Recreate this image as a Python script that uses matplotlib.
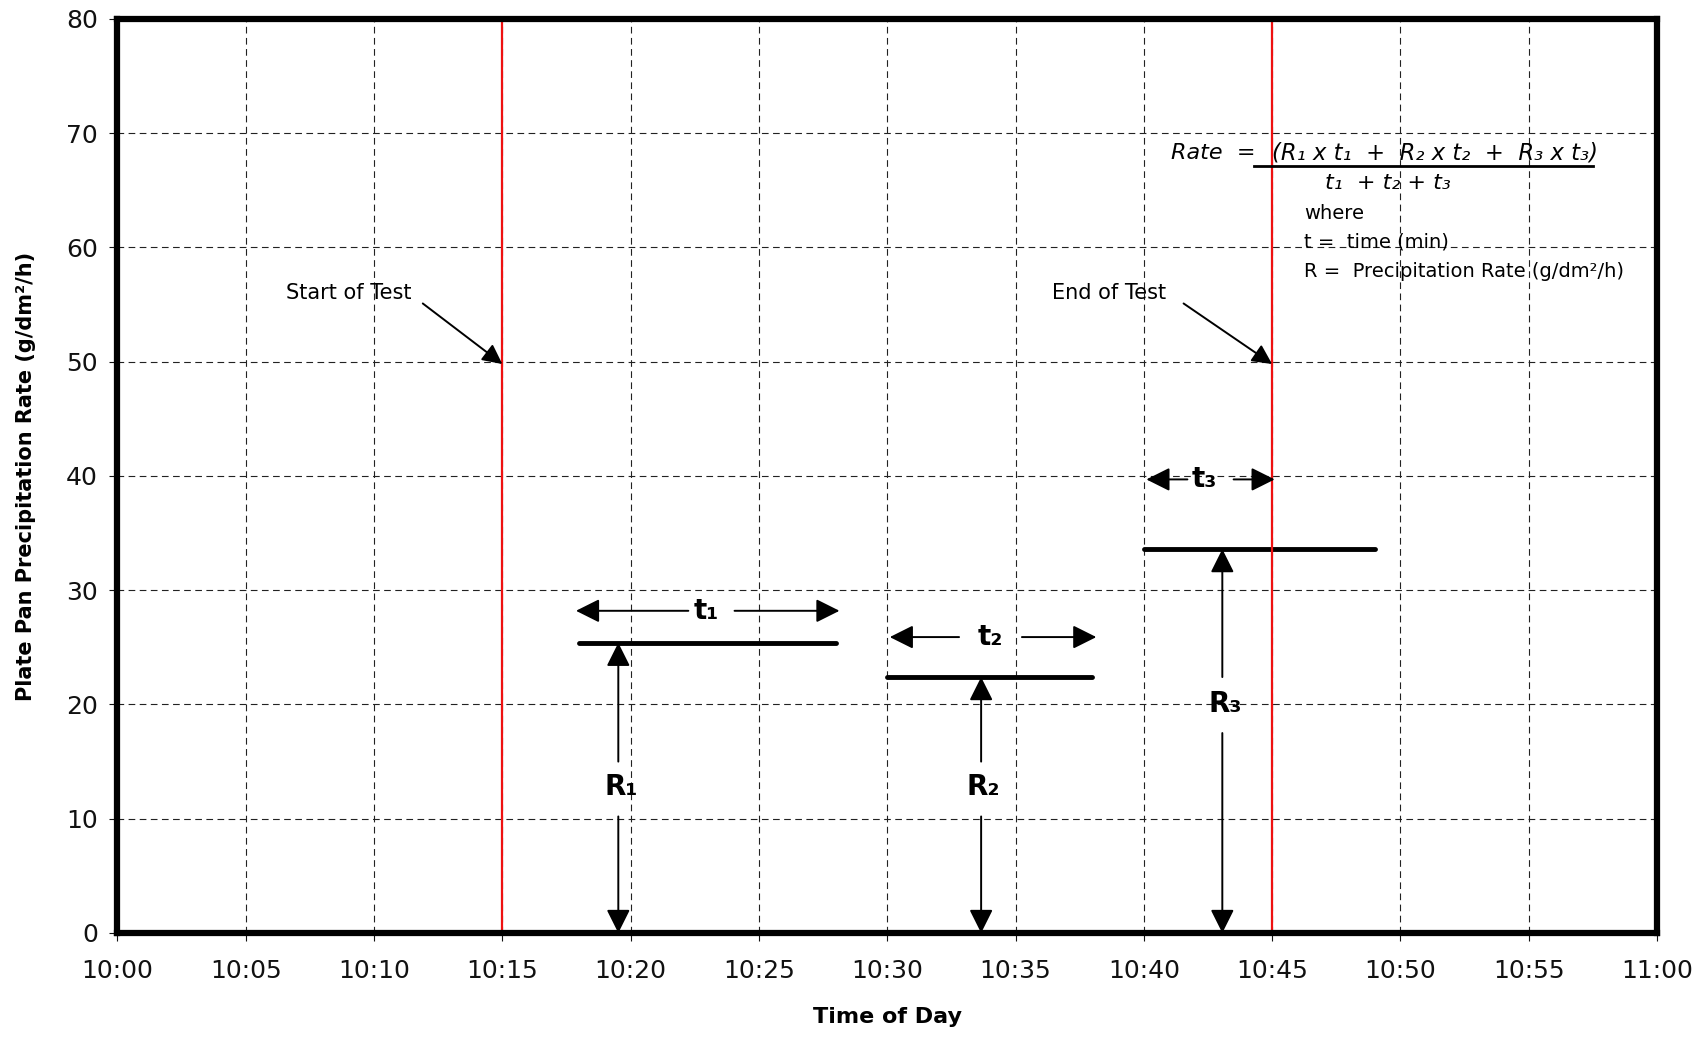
import matplotlib
matplotlib.use('Agg')
import matplotlib.pyplot as plt

plt.rcParams['font.family'] = ['DejaVu Sans']

# minutes after 10:00
tick_minutes = list(range(0, 61, 5))
tick_labels = ['10:%02d' % m if m < 60 else '11:00' for m in tick_minutes]
y_ticks = list(range(0, 81, 10))

test_start = 15
test_end = 45

# rate steps: start, end, rate
seg_start = [18, 30, 40]
seg_end = [28, 38, 49]
seg_rate = [25.4, 22.4, 33.6]

# t-dimension arrows: y level, left tip, right tip, label x, gap left, gap right
t_y = [28.2, 25.9, 39.7]
t_left = [17.87, 30.1, 40.1]
t_right = [28.14, 38.15, 45.1]
t_lab_x = [22.95, 34.0, 42.35]
t_gap_l = [22.25, 32.8, 41.7]
t_gap_r = [24.05, 35.25, 43.5]
t_names = ['t\u2081', 't\u2082', 't\u2083']

# R-dimension arrows: x, label y, gap below, gap above
r_x = [19.52, 33.66, 43.06]
r_lab_y = [12.8, 12.8, 20.0]
r_gap_lo = [10.2, 10.2, 17.5]
r_gap_hi = [15.0, 15.0, 22.4]
r_names = ['R\u2081', 'R\u2082', 'R\u2083']

fig = plt.figure(figsize=(17.07, 10.37), dpi=100)
ax = fig.add_axes([0.0688, 0.1003, 0.9019, 0.8814])

ax.set_xlim(0, 60)
ax.set_ylim(0, 80)
ax.set_xticks(tick_minutes)
ax.set_xticklabels(tick_labels)
ax.set_yticks(y_ticks)
ax.tick_params(labelsize=18, length=6, width=0.8, colors='#111111', pad=8)
ax.tick_params(axis='x', pad=13)
ax.grid(True, color='#222222', linestyle=(0, (6, 4)), linewidth=0.8, zorder=0)
ax.set_axisbelow(True)
for s in ax.spines.values():
    s.set_linewidth(4.5)
    s.set_zorder(5)

# test window
for xv in (test_start, test_end):
    ax.axvline(xv, color='#ee1111', lw=1.6, zorder=4)

# rate segments
for a, b, r in zip(seg_start, seg_end, seg_rate):
    ax.plot([a, b], [r, r], color='black', lw=3.5, solid_capstyle='round', zorder=3)

arr = dict(arrowstyle='-|>', color='black', lw=1.4, mutation_scale=36,
           shrinkA=0, shrinkB=0)

for y, l, r, lx, gl, gr, nm in zip(t_y, t_left, t_right, t_lab_x, t_gap_l, t_gap_r, t_names):
    ax.annotate('', xy=(l, y), xytext=(gl, y), arrowprops=arr, zorder=6)
    ax.annotate('', xy=(r, y), xytext=(gr, y), arrowprops=arr, zorder=6)
    ax.text(lx, y, nm, fontsize=20, fontweight='bold', ha='center', va='center', zorder=6)

for x, ly, lo, hi, rate, nm in zip(r_x, r_lab_y, r_gap_lo, r_gap_hi, seg_rate, r_names):
    ax.annotate('', xy=(x, 0), xytext=(x, lo), arrowprops=arr, zorder=6)
    ax.annotate('', xy=(x, rate), xytext=(x, hi), arrowprops=arr, zorder=6)
    ax.text(x + 0.1, ly, nm, fontsize=20, fontweight='bold', ha='center', va='center', zorder=6)

# start / end annotations
arr2 = dict(arrowstyle='-|>', color='black', lw=1.4, mutation_scale=30,
            shrinkA=0, shrinkB=0)
ax.text(9.0, 56.0, 'Start of Test', fontsize=15, ha='center', va='center')
ax.annotate('', xy=(test_start, 49.8), xytext=(11.9, 55.1), arrowprops=arr2, zorder=6)
ax.text(38.65, 56.0, 'End of Test', fontsize=15, ha='center', va='center')
ax.annotate('', xy=(test_end, 49.8), xytext=(41.55, 55.1), arrowprops=arr2, zorder=6)

# formula
ax.text(44.35, 68.3, 'Rate  =', fontsize=16, style='italic', ha='right', va='center')
ax.text(45.0, 68.3, '(R\u2081 x t\u2081  +  R\u2082 x t\u2082  +  R\u2083 x t\u2083)',
        fontsize=16.3, style='italic', ha='left', va='center')
ax.plot([44.3, 57.5], [67.15, 67.15], color='black', lw=2, zorder=6)
ax.text(49.5, 65.6, 't\u2081  + t\u2082 + t\u2083', fontsize=16, style='italic',
        ha='center', va='center')
ax.text(46.25, 62.95, 'where', fontsize=14, ha='left', va='center')
ax.text(46.25, 60.5, 't =  time (min)', fontsize=14, ha='left', va='center')
ax.text(46.25, 57.9, 'R =  Precipitation Rate (g/dm\u00b2/h)', fontsize=14, ha='left', va='center')

ax.set_xlabel('Time of Day', fontsize=16, fontweight='bold', labelpad=17)
ax.set_ylabel('Plate Pan Precipitation Rate (g/dm\u00b2/h)', fontsize=15,
              fontweight='bold', labelpad=22)

fig.savefig('out.png', dpi=100)
